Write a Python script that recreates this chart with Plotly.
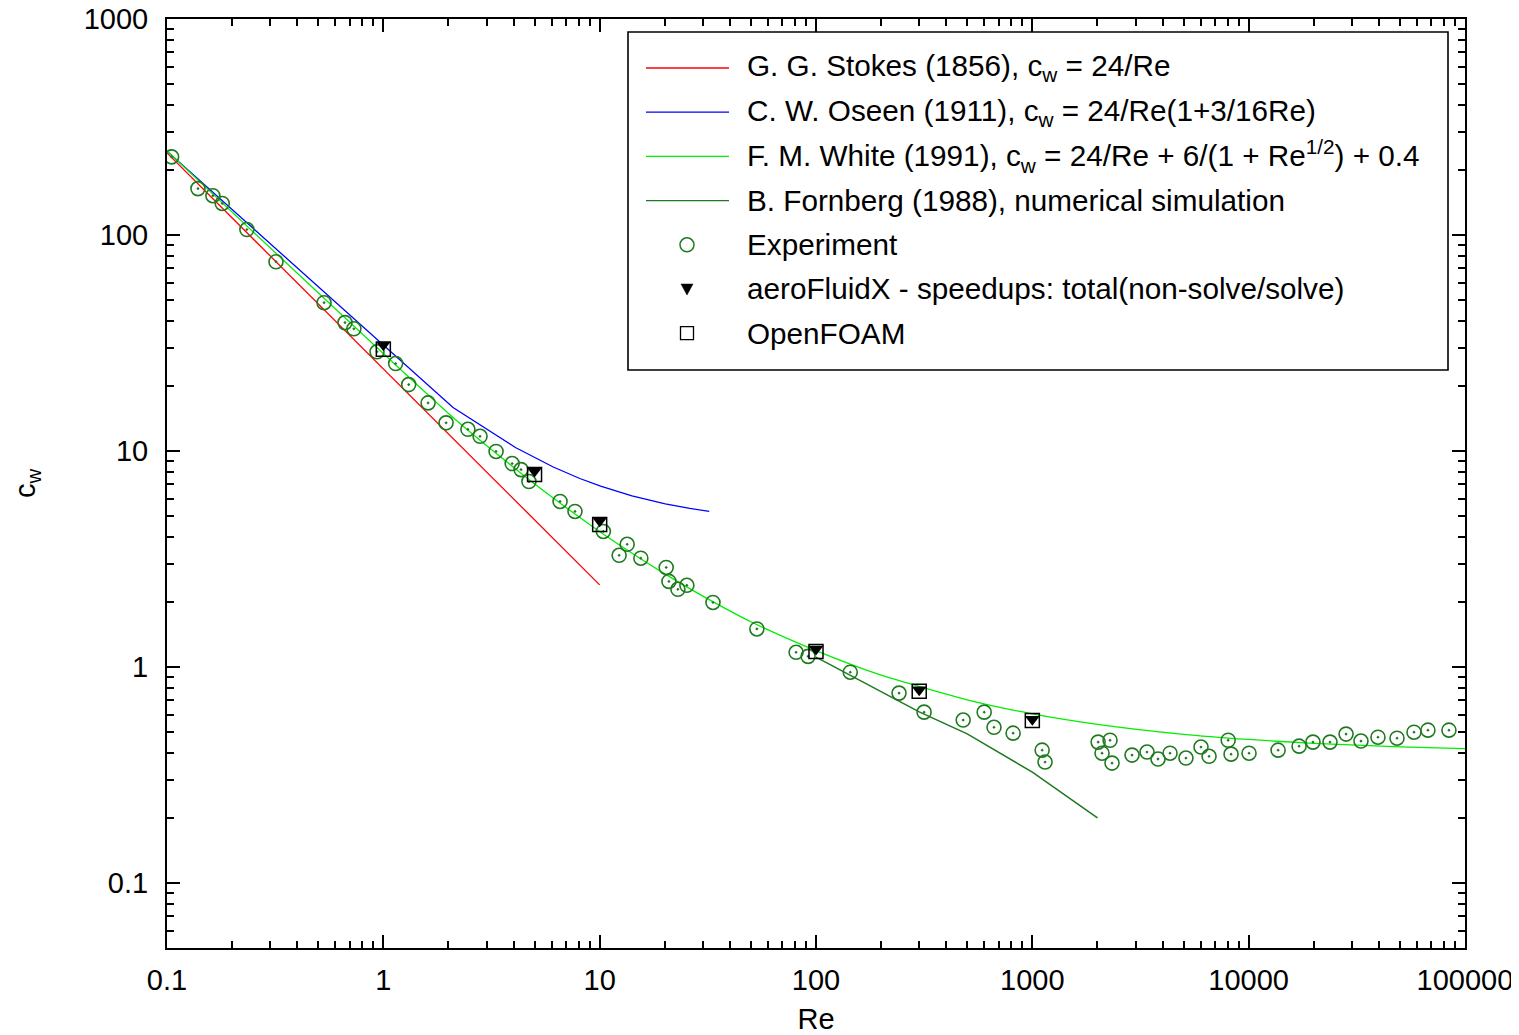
import plotly.graph_objects as go

# ---- data ----
# theory curves
stokes_re = [0.1, 1, 10]
stokes_cw = [240, 24, 2.4]

oseen_re = [0.1, 2.1, 4.1, 6.1, 8.1, 10.1, 14.1, 20.1, 26.1, 32.1]
oseen_cw = [244.5, 15.9, 10.35, 8.43, 7.46, 6.88, 6.2, 5.69, 5.42, 5.25]

white_re = [0.1, 2.1, 4.1, 6.1, 8.1, 10.1, 14, 20, 30, 50, 100, 200, 500,
            1000, 2000, 5000, 10000, 20000, 50000, 100000]
white_cw = [245, 14.3, 8.24, 6.06, 4.92, 4.21, 3.38, 2.7, 2.13, 1.62, 1.19,
            0.916, 0.705, 0.607, 0.543, 0.488, 0.462, 0.443, 0.427, 0.419]

fornberg_re = [100, 300, 500, 1000, 2000]
fornberg_cw = [1.11, 0.62, 0.49, 0.326, 0.2]

# experiment
exp_re = [0.105, 0.139, 0.163, 0.180, 0.234, 0.319, 0.532, 0.665, 0.731, 0.935,
          1.14, 1.31, 1.61, 1.95, 2.46, 2.80, 3.32, 3.94, 4.33, 4.71,
          6.56, 7.69, 10.4, 12.3, 13.4, 15.5, 20.3, 20.9, 23.0, 25.3,
          33.4, 53.3, 80.9, 91.9, 144, 242, 316, 479, 599, 665,
          815, 1110, 1145, 2014, 2100, 2287, 2335, 2890, 3390, 3810,
          4330, 5130, 6020, 6560, 8040, 8290, 10040, 13680, 17100, 19830,
          23770, 28200, 33050, 39600, 48500, 58100, 67400, 84300]
exp_cw = [230, 164, 152, 140, 106, 75.2, 48.6, 39.3, 36.8, 28.8,
          25.4, 20.3, 16.7, 13.5, 12.6, 11.7, 9.95, 8.75, 8.2, 7.22,
          5.84, 5.25, 4.24, 3.29, 3.70, 3.19, 2.89, 2.49, 2.29, 2.39,
          1.99, 1.50, 1.17, 1.12, 0.946, 0.757, 0.618, 0.568, 0.618, 0.526,
          0.494, 0.412, 0.363, 0.449, 0.399, 0.458, 0.359, 0.391, 0.404, 0.375,
          0.399, 0.379, 0.426, 0.386, 0.458, 0.395, 0.399, 0.412, 0.43, 0.449,
          0.449, 0.489, 0.454, 0.473, 0.468, 0.499, 0.510, 0.510]

# simulations
sim_re = [1, 5, 10, 100, 300, 1000]
afx_cw = [31.0, 8.08, 4.75, 1.21, 0.785, 0.573]
foam_cw = [29.6, 7.79, 4.57, 1.18, 0.773, 0.565]

# ticks
x_tickvals = [0.1, 1, 10, 100, 1000, 10000, 100000]
x_ticktext = ["0.1", "1", "10", "100", "1000", "10000", "100000"]
y_tickvals = [0.1, 1, 10, 100, 1000]
y_ticktext = ["0.1", "1", "10", "100", "1000"]

legend_labels = [
    "G. G. Stokes (1856), c<sub>w</sub> = 24/Re",
    "C. W. Oseen (1911), c<sub>w</sub> = 24/Re(1+3/16Re)",
    "F. M. White (1991), c<sub>w</sub> = 24/Re + 6/(1 + Re<sup>1/2</sup>) + 0.4",
    "B. Fornberg (1988), numerical simulation",
    "Experiment",
    "aeroFluidX - speedups: total(non-solve/solve)",
    "OpenFOAM",
]

assert len(exp_re) == len(exp_cw)

RED = "#ff0000"
BLUE = "#0000ff"
LIME = "#00ee00"
DKGREEN = "#1f7a1f"
FONT = "Liberation Sans, Arial, sans-serif"
FS = 29

# page is rendered with an 8px body margin, so the figure is 8px smaller
OFF = 8
W, H = 1519 - OFF, 1035 - OFF
L, R, T, B = 167, 1465, 19, 948   # plot frame in page pixels


def minor_vals(d0, d1):
    out = []
    for d in range(d0, d1):
        for k in range(2, 10):
            out.append(round(k * 10 ** d, 6))
    return out


fig = go.Figure()

fig.add_trace(go.Scatter(x=stokes_re, y=stokes_cw, mode="lines",
                         line=dict(color=RED, width=1.3), name=legend_labels[0]))
fig.add_trace(go.Scatter(x=oseen_re, y=oseen_cw, mode="lines",
                         line=dict(color=BLUE, width=1.3), name=legend_labels[1]))
fig.add_trace(go.Scatter(x=white_re, y=white_cw, mode="lines",
                         line=dict(color=LIME, width=1.3, shape="spline", smoothing=0.6),
                         name=legend_labels[2]))
fig.add_trace(go.Scatter(x=fornberg_re, y=fornberg_cw, mode="lines",
                         line=dict(color=DKGREEN, width=1.5), name=legend_labels[3]))
fig.add_trace(go.Scatter(x=exp_re, y=exp_cw, mode="markers", name=legend_labels[4],
                         marker=dict(symbol="circle-open-dot", size=14, color=DKGREEN,
                                     line=dict(width=1.6, color=DKGREEN))))
fig.add_trace(go.Scatter(x=sim_re, y=afx_cw, mode="markers", name=legend_labels[5],
                         marker=dict(symbol="triangle-down", size=13, color="black",
                                     line=dict(width=0))))
fig.add_trace(go.Scatter(x=sim_re, y=foam_cw, mode="markers", name=legend_labels[6],
                         marker=dict(symbol="square-open", size=14, color="black",
                                     line=dict(width=1.5, color="black"))))


# hand-drawn legend box in the gnuplot style
def px(x):
    return (x - L) / (R - L)


def py(y):
    return (B - y) / (B - T)


shapes = [dict(type="rect", xref="paper", yref="paper",
               x0=px(628), x1=px(1448), y0=py(370), y1=py(32),
               line=dict(color="black", width=1.6), fillcolor="white", layer="below")]
annotations = []
row0, step = 68, 44.2
styles = [("line", RED), ("line", BLUE), ("line", LIME), ("line", DKGREEN),
          ("circle", DKGREEN), ("tri", "black"), ("square", "black")]
for i, (lab, (kind, col)) in enumerate(zip(legend_labels, styles)):
    yc = py(row0 + i * step)
    if kind == "line":
        shapes.append(dict(type="line", xref="paper", yref="paper",
                           x0=px(646), x1=px(729), y0=yc, y1=yc,
                           line=dict(color=col, width=1.3)))
    elif kind == "circle":
        shapes.append(dict(type="circle", xref="paper", yref="paper",
                           xsizemode="pixel", ysizemode="pixel",
                           xanchor=px(687), yanchor=yc, x0=-7, x1=7, y0=-7, y1=7,
                           line=dict(color=col, width=1.5)))
    elif kind == "tri":
        shapes.append(dict(type="path", xref="paper", yref="paper",
                           xsizemode="pixel", ysizemode="pixel",
                           xanchor=px(687), yanchor=yc,
                           path="M -6,5 L 6,5 L 0,-6 Z",
                           fillcolor=col, line=dict(color=col, width=0.5)))
    else:
        shapes.append(dict(type="rect", xref="paper", yref="paper",
                           xsizemode="pixel", ysizemode="pixel",
                           xanchor=px(687), yanchor=yc, x0=-6.5, x1=6.5, y0=-6.5, y1=6.5,
                           line=dict(color=col, width=1.3)))
    annotations.append(dict(xref="paper", yref="paper", x=px(745), y=yc,
                            xanchor="left", yanchor="middle", showarrow=False,
                            text=lab, font=dict(family=FONT, size=29.7, color="black")))

axis_common = dict(
    type="log", showgrid=False, zeroline=False, automargin=False,
    showline=True, linecolor="black", linewidth=2, mirror="allticks",
    ticks="inside", ticklen=13, tickwidth=2, tickcolor="black",
    ticklabeloverflow="allow",
    tickfont=dict(family=FONT, size=FS, color="black"),
)

fig.update_layout(
    width=W, height=H,
    margin=dict(l=L - OFF, r=W - (R - OFF), t=T - OFF, b=H - (B - OFF), pad=0),
    paper_bgcolor="white", plot_bgcolor="white",
    showlegend=False,
    shapes=shapes, annotations=annotations,
    xaxis=dict(axis_common, range=[-1, 5], tickmode="array",
               tickvals=x_tickvals, ticktext=x_ticktext, ticklabelstandoff=5,
               minor=dict(tickvals=minor_vals(-1, 5), ticks="inside", ticklen=7,
                          tickwidth=1.5, tickcolor="black"),
               title=dict(text="Re", font=dict(family=FONT, size=FS, color="black"),
                          standoff=20)),
    yaxis=dict(axis_common, range=[-1.301, 3.0001], tickmode="array",
               tickvals=y_tickvals, ticktext=y_ticktext, ticklabelstandoff=11,
               minor=dict(tickvals=[0.05, 0.06, 0.07, 0.08, 0.09] + minor_vals(-1, 3),
                          ticks="inside", ticklen=7, tickwidth=1.5, tickcolor="black"),
               title=dict(text="c<sub>w</sub>", font=dict(family=FONT, size=FS, color="black"),
                          standoff=40)),
)

fig.write_html("out.html")
